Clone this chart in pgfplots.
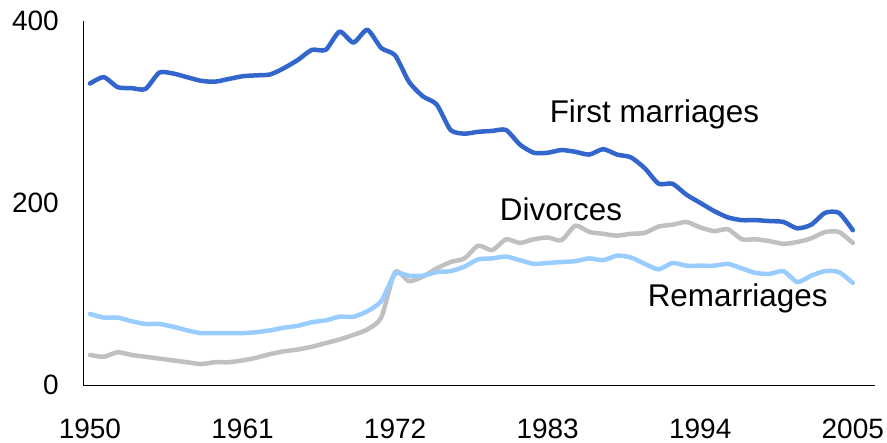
\documentclass[border=0pt]{standalone}
\usepackage{pgfplots}
\pgfplotsset{compat=1.18}
\usepackage{pgfplotstable}
\usepackage{fontspec}
\setmainfont{Liberation Sans}
\definecolor{firstm}{RGB}{51,102,204}
\definecolor{remar}{RGB}{153,204,255}
\definecolor{divor}{RGB}{192,192,192}
\pgfplotstableread{
year first div remar
1950 331 33 78
1951 338 31 74
1952 327 36 74
1953 326 33 70
1954 325 31 67
1955 343 29 67
1956 342 27 64
1957 338 25 60
1958 334 23 57
1959 333 25 57
1960 336 25 57
1961 339 27 57
1962 340 30 58
1963 341 34 60
1964 348 37 63
1965 357 39 65
1966 368 42 69
1967 368 46 71
1968 388 50 75
1969 376 55 75
1970 390 61 81
1971 370 74 92
1972 362 124 122
1973 333 114 120
1974 317 119 120
1975 308 128 124
1976 280 135 125
1977 276 139 130
1978 278 153 138
1979 279 148 139
1980 280 160 141
1981 264 156 137
1982 255 160 133
1983 255 162 134
1984 258 159 135
1985 256 175 136
1986 253 168 139
1987 259 166 137
1988 253 164 142
1989 250 166 140
1990 238 167 133
1991 221 174 127
1992 221 176 134
1993 209 179 131
1994 200 173 131
1995 191 169 131
1996 184 171 133
1997 181 160 128
1998 181 160 123
1999 180 158 122
2000 179 155 125
2001 172 157 113
2002 176 161 120
2003 189 168 125
2004 189 168 124
2005 170 156 112
}\datatable
\begin{document}
\begin{tikzpicture}
\useasboundingbox (0,0) rectangle (887bp,443bp);
\begin{axis}[
  at={(83bp,58bp)}, anchor=south west,
  scale only axis, width=792bp, height=364.3bp,
  xmin=1949.5, xmax=2006.6, ymin=0, ymax=400,
  axis x line=bottom, axis y line=left,
  axis line style={-, black, line width=1bp},
  xtick={1950,1961,1972,1983,1994,2005},
  ytick={0,200,400},
  major tick length=0pt,
  xticklabel={\pgfmathprintnumber[1000 sep=]{\tick}},
  /pgf/number format/assume math mode=true,
  /pgf/number format/1000 sep={},
  tick label style={font=\fontsize{28bp}{30bp}\selectfont},
  xticklabel style={anchor=base, inner sep=0pt, yshift=-53bp},
  yticklabel style={anchor=east, inner sep=0pt, xshift=-24bp},
  clip=false,
  every axis plot/.append style={line width=4.5bp, line join=round, line cap=round, smooth, tension=0.4},
]
\addplot[divor] table[x=year,y=div] {\datatable};
\addplot[remar] table[x=year,y=remar] {\datatable};
\addplot[firstm] table[x=year,y=first] {\datatable};
\node[anchor=base, font=\fontsize{31.4bp}{34bp}\selectfont] at (axis cs:1990.7,288) {First marriages};
\node[anchor=base, font=\fontsize{31.4bp}{34bp}\selectfont] at (axis cs:1983.96,181) {Divorces};
\node[anchor=base, font=\fontsize{31.4bp}{34bp}\selectfont] at (axis cs:1996.7,86) {Remarriages};
\end{axis}
\end{tikzpicture}
\end{document}
